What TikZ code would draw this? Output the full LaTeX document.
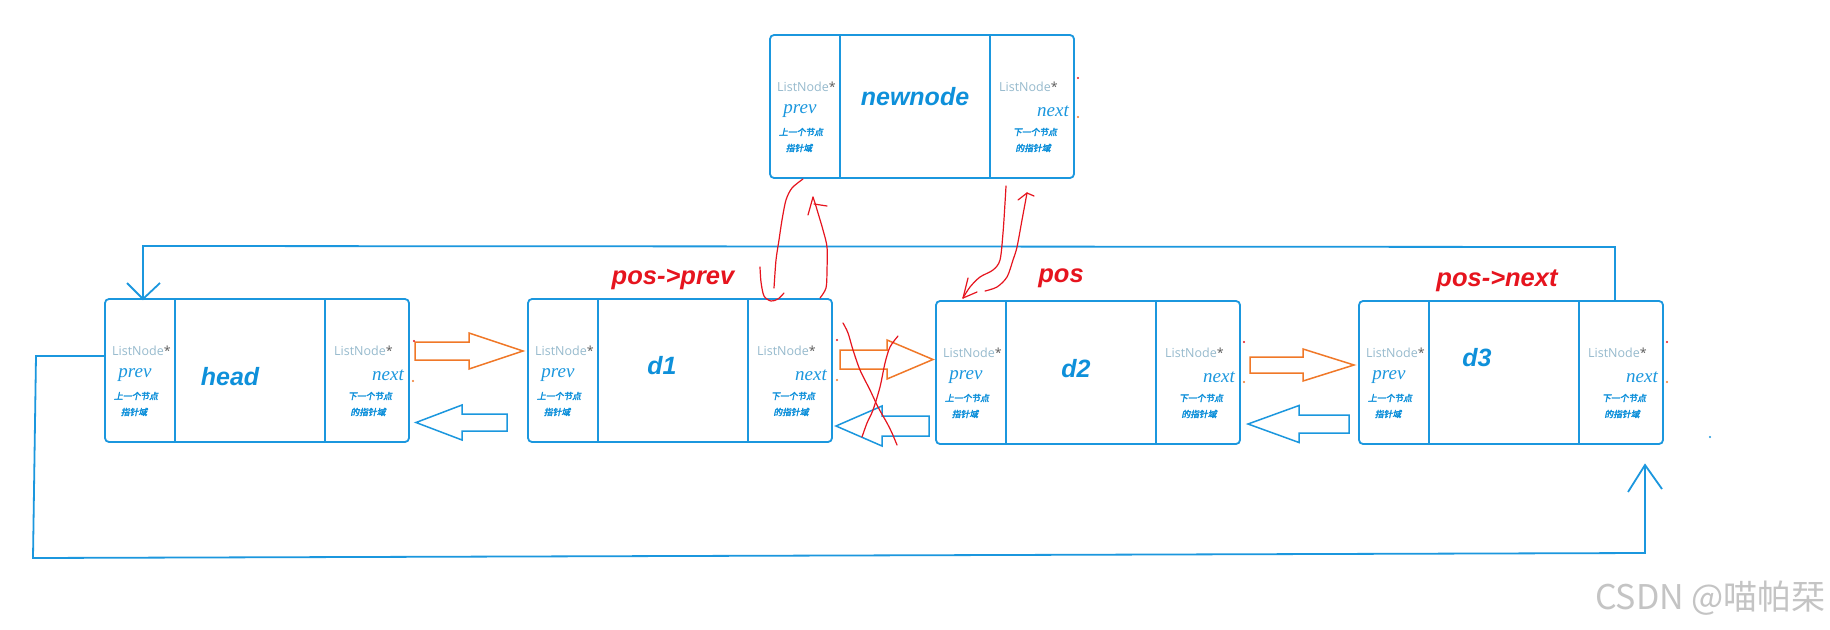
\documentclass[tikz,border=0pt]{standalone}
\usepackage{fontspec}
\setmainfont{Liberation Sans}
\newfontfamily\cjkfont[FakeBold=3,FakeSlant=0.2]{Noto Sans CJK SC}
\newfontfamily\wmfont{Noto Sans CJK SC}
\newfontfamily\handfont{Open Sans}
\newfontfamily\penfont{Liberation Serif}
\usetikzlibrary{calc}
\definecolor{lblue}{RGB}{27,151,222}
\definecolor{tblue}{RGB}{14,144,218}
\definecolor{lngray}{RGB}{150,186,205}
\definecolor{stargray}{RGB}{90,90,90}
\definecolor{lred}{RGB}{230,20,30}
\definecolor{lorange}{RGB}{240,120,40}
\definecolor{wmgray}{RGB}{196,196,196}
\tikzset{
  box/.style={draw=lblue, line width=1.8pt, rounded corners=4pt, minimum width=304pt, minimum height=143pt, inner sep=0pt, outer sep=0pt},
  div/.style={draw=lblue, line width=1.5pt},
  lnt/.style={font=\handfont\fontsize{12.5}{12.5}\selectfont, text=lngray, inner sep=0pt},
  pnt/.style={font=\penfont\itshape\fontsize{19}{19}\selectfont, text=lblue, inner sep=0pt},
  cnt/.style={font=\cjkfont\fontsize{8.8}{9}\selectfont, text=tblue, inner sep=0pt},
  ttl/.style={font=\bfseries\itshape\fontsize{25}{25}\selectfont, text=tblue, inner sep=0pt},
  lab/.style={font=\bfseries\itshape\fontsize{25.5}{25.5}\selectfont, text=lred, inner sep=0pt},
  conn/.style={draw=lblue, line width=1.8pt},
  redpen/.style={draw=lred, line width=1.2pt, line cap=round, line join=round},
  oarrow/.style={draw=lorange, line width=1.5pt, line join=miter},
  barrow/.style={draw=lblue, line width=1.5pt, line join=miter},
}
\newcommand\listbox[6]{%
  \node[box, anchor=north west] (#1) at (#2,#3) {};
  \draw[div] ([xshift=70pt]#1.north west) -- ([xshift=70pt]#1.south west);
  \draw[div] ([xshift=-84pt]#1.north east) -- ([xshift=-84pt]#1.south east);
  \node[ttl] (#1-t) at ([shift={(#5,#6)}]#1.north west) {#4};
  \node[lnt, anchor=west] (#1-pl) at ([shift={(7,52)}]#1.north west) {ListNode\textcolor{stargray}{*}};
  \node[pnt] (#1-pv) at ([shift={(30,76)}]#1.north west) {prev};
  \node[cnt] (#1-pa) at ([shift={(31,97)}]#1.north west) {上一个节点};
  \node[cnt] (#1-pb) at ([shift={(29,113)}]#1.north west) {指针域};
  \node[lnt, anchor=west] (#1-nl) at ([shift={(-75,52)}]#1.north east) {ListNode\textcolor{stargray}{*}};
  \node[pnt] (#1-nx) at ([shift={(-21,76)}]#1.north east) {next};
  \node[cnt] (#1-na) at ([shift={(-39,97)}]#1.north east) {下一个节点};
  \node[cnt] (#1-nb) at ([shift={(-41,113)}]#1.north east) {的指针域};
}
\newcommand\blockarrow[7]{%
  \draw[#1] (#2,#5-#6) -- (#3,#5-#6) -- (#3,#5-#7) -- (#4,#5) -- (#3,#5+#7) -- (#3,#5+#6) -- (#2,#5+#6) -- cycle;
}
\begin{document}
\begin{tikzpicture}[x=1pt,y=-1pt]
\useasboundingbox[fill=white] (0,0) rectangle (1830,629);

% boxes
\listbox{newnode}{770}{35}{newnode}{145}{62}
\listbox{head}{105}{299}{head}{125}{78}
\listbox{d1}{528}{299}{d1}{134}{67}
\listbox{d2}{936}{301}{d2}{140}{68}
\listbox{d3}{1359}{301}{d3}{118}{57}

% red labels
\node[lab] (lprev) at (673,279) {pos->prev};
\node[lab] (lpos) at (1061,278) {pos};
\node[lab] (lnext) at (1497,281) {pos->next};

% block arrows
\blockarrow{oarrow}{415}{469}{523}{351}{9}{18}
\blockarrow{oarrow}{840}{887}{933}{359.5}{9.5}{19.5}
\blockarrow{oarrow}{1250}{1303}{1354}{365}{8}{16}
\blockarrow{barrow}{507}{462}{416}{422.5}{8.5}{17.5}
\blockarrow{barrow}{929}{882}{836}{426}{10}{20}
\blockarrow{barrow}{1349}{1299}{1248}{424}{9}{18.5}

% top loop: d3 -> head
\coordinate (tl1) at (1615,247);
\coordinate (tl2) at (143,246);
\coordinate (htip) at ([xshift=38pt]head.north west);
\draw[conn] ([xshift=-48pt]d3.north east) -- (tl1) -- (tl2) -- (htip);
\draw[conn] ([shift={(-16,-16)}]htip) -- (htip) -- ([shift={(17,-16)}]htip);

% bottom loop: head -> d3
\coordinate (bl1) at (36,356);
\coordinate (bl2) at (33,558);
\coordinate (bl3) at (1645,553);
\coordinate (d3in) at (1645,465);
\draw[conn] ([shift={(0,57)}]head.north west) -- (bl1) -- (bl2) -- (bl3) -- (d3in);
\draw[conn] ([shift={(-17,27)}]d3in) -- (d3in) -- ([shift={(17,24)}]d3in);

% red hand-drawn strokes
\draw[redpen] plot[smooth] coordinates {(803,179) (792,188) (786,200) (782,220) (779,240) (776,260) (774,288)};
\draw[redpen] plot[smooth] coordinates {(760,267) (761,282) (764,296) (771,301) (778,299) (784,293)};
\draw[redpen] plot[smooth] coordinates {(820,298) (826,288) (827,270) (827,247) (823,230) (818,213) (815,203) (813,197)};
\draw[redpen] (813,197) -- (808,215);
\draw[redpen] (814,204) -- (827,206);
\draw[redpen] plot[smooth] coordinates {(1006,186) (1005,203) (1003,233) (1000,260) (993,270) (980,277) (970,287) (963,298)};
\draw[redpen] (963,298) -- (968,278);
\draw[redpen] (963,298) -- (977,292);
\draw[redpen] plot[smooth] coordinates {(985,291) (997,287) (1007,277) (1013,260) (1017,247) (1022,220) (1027,193)};
\draw[redpen] (1027,193) -- (1018,200);
\draw[redpen] (1027,193) -- (1034,196);
\draw[redpen] plot[smooth] coordinates {(843,323) (848,333) (853,350) (860,370) (870,390) (878,407) (887,423) (892,433) (897,445)};
\draw[redpen] plot[smooth] coordinates {(898,336) (890,347) (885,363) (880,387) (873,410) (867,423) (862,437)};

% tiny dots
\foreach \p in {(414,341),(837,340),(1244,342),(1667,342),(1078,78)} \fill[lred] \p circle (1.2);
\foreach \p in {(413,381),(837,380),(1244,382),(1667,382),(1078,117)} \fill[lorange] \p circle (1.2);
\fill[lblue] (1710,437) circle (1.2);

% watermark
\node[font=\wmfont\fontsize{34}{34}\selectfont, text=wmgray, anchor=east, inner sep=0pt] (wm) at (1826,598) {CSDN @喵帕栞};
\end{tikzpicture}
\end{document}
